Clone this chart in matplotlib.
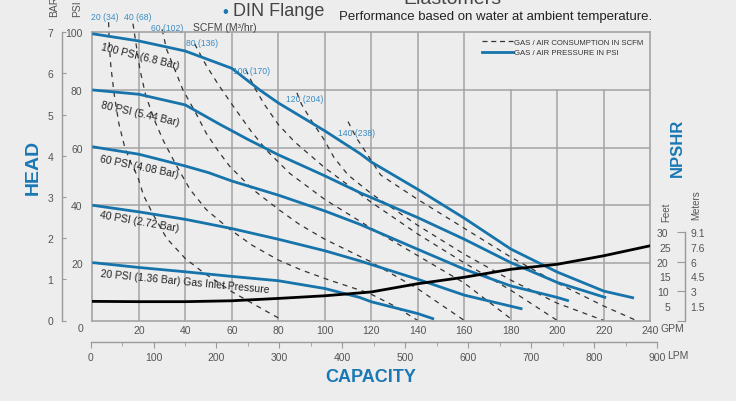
import matplotlib
matplotlib.use("Agg")
import matplotlib.pyplot as plt
from matplotlib.lines import Line2D
from matplotlib.ticker import FixedLocator, FixedFormatter

plt.rcParams['font.family'] = ['Liberation Sans', 'DejaVu Sans']

# ---------------- data ----------------
gpm_ticks = [20, 40, 60, 80, 100, 120, 140, 160, 180, 200, 220, 240]
psi_ticks = [20, 40, 60, 80, 100]
bar_ticks = [0, 1, 2, 3, 4, 5, 6, 7]
lpm_ticks = [0, 100, 200, 300, 400, 500, 600, 700, 800, 900]
lpm_minor = [50, 150, 250, 350, 450, 550, 650, 750, 850]
npshr_feet_major = [0, 10, 20, 30]
npshr_feet_major_labels = ["", "10", "20", "30"]
npshr_feet_minor = [5, 15, 25]
npshr_feet_minor_labels = ["5", "15", "25"]
npshr_meter_pos = [5, 10, 15, 20, 25, 30]
npshr_meter_labels = ["1.5", "3", "4.5", "6", "7.6", "9.1"]

# pressure curves (GPM, PSI head)
p100_gpm = [0, 20, 40, 60, 72, 80, 100, 115, 120, 140, 160, 180, 200, 220, 233]
p100_psi = [99.5, 97, 93.5, 87.5, 80, 75.5, 65.8, 58, 55, 45.5, 35.5, 24.8, 16.8, 10.2, 7.8]
p80_gpm = [0, 20, 40, 55, 67, 80, 94, 100, 115, 140, 160, 180, 200, 221]
p80_psi = [80, 78.5, 74.8, 68, 62.8, 57.5, 52.4, 50.2, 44.4, 35.7, 28.2, 20.1, 13.2, 7.9]
p60_gpm = [0, 20, 40, 50, 60, 80, 100, 115, 140, 160, 180, 200, 205]
p60_psi = [60.3, 57.7, 53.6, 51.3, 48.4, 43.5, 38, 33.4, 24.7, 17.8, 12, 8, 6.8]
p40_gpm = [0, 20, 40, 60, 80, 100, 115, 140, 160, 185]
p40_psi = [40, 37.7, 35.1, 31.9, 28.2, 24.2, 20.7, 14.3, 8.8, 4]
p20_gpm = [0, 20, 40, 60, 80, 100, 115, 120, 140, 147]
p20_psi = [20.1, 18.4, 16.9, 15.3, 13.8, 11.1, 8, 6.5, 2.4, 0.5]

# air consumption curves (GPM, PSI)
d20_gpm = [7.0, 7.3, 8.0, 9.5, 11.5, 14, 17, 19.5, 22, 26, 32, 40, 48, 60, 72, 82]
d20_psi = [103.5, 96, 88, 78, 68, 60, 54, 50, 43.5, 37, 28.5, 21.5, 16.5, 10, 4.5, 0]
d40_gpm = [17.5, 19, 20.5, 23, 27, 30.5, 36, 42, 49, 59, 69, 80, 90, 102, 119, 130, 140]
d40_psi = [103, 95, 87, 78, 69, 62.5, 54, 45.5, 38.5, 31.7, 26, 21, 17.5, 14, 9.5, 5, 0]
d60_gpm = [30, 32, 35, 39, 44.5, 49, 54, 59, 69, 80, 89, 100, 119, 140, 160]
d60_psi = [101, 94, 88, 80, 72, 65, 59, 53.6, 45.5, 38.6, 33.4, 28.2, 20.7, 11, 0]
d80_gpm = [44, 49, 54.5, 60.5, 68, 75, 85, 100, 120, 140, 160, 181]
d80_psi = [96, 88.5, 81.5, 74.5, 66, 59, 51, 42, 32, 22.5, 13, 0]
d100_gpm = [66, 70, 74, 80, 87, 100, 120, 140, 160, 180, 200]
d100_psi = [87, 80.5, 75, 68, 62, 53, 41, 30, 20, 10.5, 0]
d120_gpm = [88, 90, 94.5, 99.5, 104, 110, 120, 140, 160, 180, 200, 220]
d120_psi = [79, 75, 69, 63, 56.5, 50.5, 44, 33, 23, 14, 6, 0]
d140_gpm = [110, 113.5, 120, 124, 140, 160, 180, 200, 220, 234]
d140_psi = [69, 63.5, 55.5, 50.5, 42, 32, 22, 13, 5, 0]

# NPSHR curve (GPM, feet)
npshr_gpm = [0, 20, 40, 60, 80, 100, 120, 140, 160, 180, 200, 220, 240]
npshr_ft = [6.5, 6.4, 6.4, 6.7, 7.5, 8.4, 9.7, 12.5, 14.7, 17.4, 19.1, 22.0, 25.4]

pressure_labels = ["100 PSI (6.8 Bar)", "80 PSI (5.44 Bar)", "60 PSI (4.08 Bar)",
                   "40 PSI (2.72 Bar)", "20 PSI (1.36 Bar) Gas Inlet Pressure"]
scfm_labels = ["20 (34)", "40 (68)", "60 (102)", "80 (136)", "100 (170)", "120 (204)", "140 (238)"]

# ---------------- style / layout ----------------
BLUE = '#1674ab'
TBLUE = '#1a78b4'
LBLUE = '#3a8cc4'
GRID = '#a3a3a3'
TXT = '#555555'
W, H = 736, 402

def fx(px):
    return px / W

def fy(py):
    return 1 - py / H

fig = plt.figure(figsize=(W / 100, H / 100), dpi=100, facecolor='#ededed')

ax_l, ax_r, ax_t, ax_b = 92.3, 650.3, 33.3, 321.5
ax = fig.add_axes([fx(ax_l), fy(ax_b), (ax_r - ax_l) / W, (ax_b - ax_t) / H])
ax.set_facecolor('none')
ax.set_xlim(0, 240)
ax.set_ylim(0, 100)
for s in ax.spines.values():
    s.set_color(GRID)
    s.set_linewidth(1.2)

# grid (legend area at top right left open)
for g in gpm_ticks[:-1]:
    top = 100 if g <= 160 else 80
    ax.plot([g, g], [0, top], color=GRID, lw=1.1, zorder=1)
for p in psi_ticks[:-1]:
    ax.plot([0, 240], [p, p], color=GRID, lw=1.1, zorder=1)

# ticks on main axes
ax.set_xticks(gpm_ticks)
ax.set_xticklabels([str(v) for v in gpm_ticks])
ax.set_yticks(psi_ticks)
ax.set_yticklabels([str(v) for v in psi_ticks])
ax.tick_params(axis='both', length=0, labelsize=7.5, labelcolor=TXT)
ax.tick_params(axis='x', pad=3)
ax.tick_params(axis='y', pad=7)
ax.annotate('0', xy=(0, 0), xytext=(-12, -8), textcoords='offset pixels',
            ha='center', va='center', fontsize=7.5, color=TXT)
ax.annotate('GPM', xy=(240, 0), xytext=(10, -8), textcoords='offset pixels',
            ha='left', va='center', fontsize=7.5, color=TXT)

# dashed air consumption curves
dashed = [(d20_gpm, d20_psi), (d40_gpm, d40_psi), (d60_gpm, d60_psi), (d80_gpm, d80_psi),
          (d100_gpm, d100_psi), (d120_gpm, d120_psi), (d140_gpm, d140_psi)]
for gx, py in dashed:
    ax.plot(gx, py, color='#333333', lw=0.9, ls=(0, (4, 4)), clip_on=False, zorder=2)

# pressure curves
pcurves = [(p100_gpm, p100_psi), (p80_gpm, p80_psi), (p60_gpm, p60_psi),
           (p40_gpm, p40_psi), (p20_gpm, p20_psi)]
for gx, py in pcurves:
    ax.plot(gx, py, color=BLUE, lw=2.0, solid_capstyle='butt', zorder=3)

# NPSHR curve on feet axis
ft_per_axes = 30 * (ax_b - ax_t) / (321.6 - 233.3)
axf = ax.twinx()
axf.set_ylim(0, ft_per_axes)
axf.axis('off')
axf.plot(npshr_gpm, npshr_ft, color='black', lw=2.0, zorder=4)

# curve labels
lab_pos = [(20.4, 91.8, -14), (20.6, 71.8, -13), (20.4, 53.7, -11.5), (20.4, 34.5, -10), (39.7, 13.8, -5.5)]
for t, (x, y, r) in zip(pressure_labels, lab_pos):
    ax.text(x, y, t, rotation=r, rotation_mode='anchor', ha='center', va='center',
            fontsize=7.5, color='#222222', zorder=5)

scfm_pos = [(5.5, 105.6), (19.4, 105.6), (32.1, 101.8), (47.2, 96.6), (68.7, 86.9), (91.5, 77.2), (113.8, 65.4)]
for t, (x, y) in zip(scfm_labels, scfm_pos):
    ax.text(x, y, t, ha='center', va='center', fontsize=6.2, color=LBLUE, clip_on=False)
ax.text(43.3, 101.8, 'SCFM (M³/hr)', ha='left', va='center', fontsize=7.5, color='#444444', clip_on=False)

# legend
handles = [Line2D([0], [0], color='#333333', lw=0.9, ls=(0, (4, 3))),
           Line2D([0], [0], color=BLUE, lw=2.0)]
leg = ax.legend(handles, ['GAS / AIR CONSUMPTION IN SCFM', 'GAS / AIR PRESSURE IN PSI'],
                loc='upper left', bbox_to_anchor=(0.698, 0.98), frameon=False, fontsize=5.6,
                handlelength=4.0, handletextpad=0.12, labelspacing=0.45, borderpad=0, borderaxespad=0)
for t in leg.get_texts():
    t.set_color('#333333')

# BAR axis
axb = fig.add_axes([fx(61.7), fy(ax_b), 0.0001, (ax_b - ax_t) / H])
axb.set_facecolor('none')
axb.set_ylim(0, 7)
axb.set_xticks([])
for k in ['right', 'top', 'bottom']:
    axb.spines[k].set_visible(False)
axb.spines['left'].set_color('#9a9a9a')
axb.spines['left'].set_linewidth(1.0)
axb.set_yticks(bar_ticks)
axb.set_yticklabels([str(v) for v in bar_ticks])
axb.tick_params(axis='y', direction='in', length=3, color='#9a9a9a', labelsize=7.5, labelcolor=TXT, pad=6)

# NPSHR axis
axn = fig.add_axes([fx(685), fy(321.6), 0.0001, (321.6 - 233.3) / H])
axn.set_facecolor('none')
axn.set_ylim(0, 30)
axn.set_xticks([])
for k in ['right', 'top', 'bottom']:
    axn.spines[k].set_visible(False)
axn.spines['left'].set_color('#9a9a9a')
axn.spines['left'].set_linewidth(1.0)
axn.yaxis.set_major_locator(FixedLocator(npshr_feet_major))
axn.yaxis.set_major_formatter(FixedFormatter(npshr_feet_major_labels))
axn.yaxis.set_minor_locator(FixedLocator(npshr_feet_minor))
axn.yaxis.set_minor_formatter(FixedFormatter(npshr_feet_minor_labels))
axn.tick_params(axis='y', which='major', direction='out', length=6, color='#9a9a9a',
                labelsize=7.5, labelcolor=TXT, pad=6)
axn.tick_params(axis='y', which='minor', length=0, labelsize=7.5, labelcolor=TXT, pad=10.3)
axm = axn.twinx()
axm.set_ylim(0, 30)
axm.set_xticks([])
for s in axm.spines.values():
    s.set_visible(False)
axm.set_yticks(npshr_meter_pos)
axm.set_yticklabels(npshr_meter_labels)
axm.tick_params(axis='y', length=0, labelsize=7.5, labelcolor=TXT, pad=4)

# LPM axis
axl = fig.add_axes([fx(90.6), fy(343.3), (657 - 90.6) / W, 0.0001])
axl.set_facecolor('none')
axl.set_xlim(0, 900)
axl.set_yticks([])
for k in ['left', 'right', 'top']:
    axl.spines[k].set_visible(False)
axl.spines['bottom'].set_color('#9a9a9a')
axl.spines['bottom'].set_linewidth(1.0)
axl.set_xticks(lpm_ticks)
axl.set_xticklabels([str(v) for v in lpm_ticks])
axl.set_xticks(lpm_minor, minor=True)
axl.tick_params(axis='x', which='major', direction='out', length=4.5, color='#9a9a9a', labelsize=7.5,
                labelcolor=TXT, pad=2.5)
axl.tick_params(axis='x', which='minor', direction='out', length=3, color='#9a9a9a')
axl.annotate('LPM', xy=(900, 0), xytext=(10, -13), textcoords='offset pixels',
             ha='left', va='center', fontsize=7.5, color=TXT)

# titles and axis names
fig.text(fx(371), fy(378), 'CAPACITY', ha='center', va='center', fontsize=13, fontweight='bold', color=TBLUE)
fig.text(fx(33), fy(167), 'HEAD', ha='center', va='center', rotation=90, fontsize=14, fontweight='bold', color=TBLUE)
fig.text(fx(677), fy(148), 'NPSHR', ha='center', va='center', rotation=90, fontsize=12, fontweight='bold', color=TBLUE)
fig.text(fx(666.5), fy(212), 'Feet', ha='center', va='center', rotation=90, fontsize=7, color=TXT)
fig.text(fx(696), fy(205), 'Meters', ha='center', va='center', rotation=90, fontsize=7, color=TXT)
fig.text(fx(54), fy(17), 'BAR', ha='center', va='bottom', rotation=90, fontsize=7.5, color=TXT)
fig.text(fx(77), fy(17), 'PSI', ha='center', va='bottom', rotation=90, fontsize=7.5, color=TXT)
fig.text(fx(225), fy(12), '•', ha='center', va='center', fontsize=12, color=TBLUE)
fig.text(fx(233), fy(12), 'DIN Flange', ha='left', va='center', fontsize=13, color='#444444')
fig.text(fx(652), fy(17), 'Performance based on water at ambient temperature.', ha='right', va='center',
         fontsize=9.5, color='#222222')
fig.text(fx(452), fy(4), 'Elastomers', ha='center', va='baseline', fontsize=14, color='#444444')

fig.savefig('out.png', dpi=100, facecolor=fig.get_facecolor())
